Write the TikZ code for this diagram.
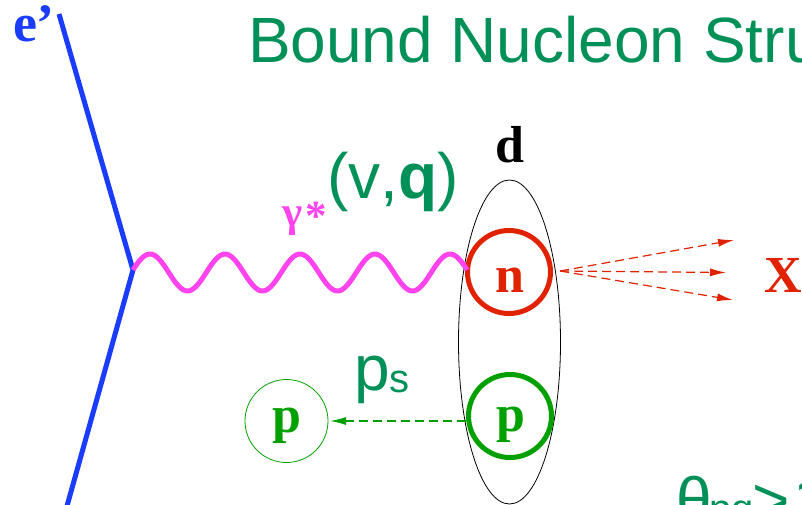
\documentclass[tikz,border=0pt]{standalone}
\usepackage{fontspec}
\setmainfont{Liberation Sans}
\newfontfamily\serifb[BoldFont=Liberation Serif Bold]{Liberation Serif}
\usetikzlibrary{arrows.meta,shapes.geometric}
\definecolor{titlegreen}{HTML}{009058}
\definecolor{eblue}{HTML}{1A3CFF}
\definecolor{nred}{HTML}{E02200}
\definecolor{pgreen}{HTML}{00A000}
\definecolor{gpink}{HTML}{FF44EE}
\tikzset{
  every node/.style={inner sep=0pt,outer sep=0pt},
  sanslabel/.style={anchor=base west,text=titlegreen,font=\fontsize{64}{64}\selectfont},
  sublabel/.style={anchor=base west,text=titlegreen,font=\fontsize{40}{40}\selectfont},
  partlabel/.style={anchor=base,font=\serifb\bfseries\fontsize{52}{52}\selectfont},
  electron/.style={draw=eblue,line width=5pt},
  photon/.style={draw=gpink,line width=5pt,line join=round},
  dashedarrow/.style={color=#1,line width=1.2pt,dash pattern=on 9pt off 5pt,
    -{Latex[length=16pt,width=8pt]}},
}
\begin{document}
\begin{tikzpicture}[x=1pt,y=-1pt]
\useasboundingbox (0,0) rectangle (802,504);
\clip (0,0) rectangle (802,504);
% text
\node[sanslabel] (title) at (248,62) {Bound Nucleon Stru};
\node[sanslabel] (vq) at (327,198) {(v\kern0pt,\textbf{q})};
\node[sanslabel] (ps) at (354,390) {p};
\node[sublabel] (pss) at (389,392) {s};
\node[sanslabel] (theta) at (676,522) {θ};
\node[sublabel] (pq) at (709,522) {pq};
\node[sanslabel] (gt) at (752,522) {>};
\node[sanslabel] (one) at (793,522) {1};
\node[anchor=base west,text=eblue,font=\serifb\bfseries\fontsize{54}{54}\selectfont] (ep) at (13,41) {e’};
\node[anchor=base west,text=gpink,font=\serifb\bfseries\fontsize{43}{43}\selectfont] (gam) at (282,226) {γ\kern3pt\raisebox{-4pt}{*}};
\node[partlabel,text=black] (d) at (509.5,162) {d};
% deuteron
\node[ellipse,draw=black,line width=0.8pt,minimum width=102pt,minimum height=324pt] (deut) at (509.5,342) {};
% nucleons
\node[circle,draw=nred,line width=5pt,minimum size=83pt] (n) at (509,272) {};
\node[circle,draw=pgreen,line width=5pt,minimum size=83pt] (pb) at (510,416) {};
\node[circle,draw=pgreen,line width=0.8pt,minimum size=83pt] (pf) at (286.5,421) {};
\node[partlabel,text=nred] (nl) at (510,292) {n};
\node[partlabel,text=pgreen] (pbl) at (510.5,431) {p};
\node[partlabel,text=pgreen] (pfl) at (287,432) {p};
\node[partlabel,anchor=base west,text=nred] (xl) at (764,292) {X};
% electron
\coordinate (ein) at (67,506);
\coordinate (eout) at (59,14);
\coordinate (v) at (133,270);
\draw[electron,line join=bevel] (eout) -- (v) -- (ein);
% photon
\coordinate (wend) at (467,270);
\draw[photon] (v) -- plot[domain=134:466,samples=130] (\x,{272.5-18.5*sin(4.8*(\x-131.25))}) -- (wend);
% fragments
\coordinate (src) at (560,271);
\coordinate (xa) at (734,240);
\coordinate (xb) at (726,272.5);
\coordinate (xc) at (733,300);
\draw[dashedarrow=nred] (src) -- (xa);
\draw[dashedarrow=nred] (src) -- (xb);
\draw[dashedarrow=nred] (src) -- (xc);
% spectator
\coordinate (pbw) at (466,421);
\draw[dashedarrow=pgreen,shorten >=2pt] (pbw) -- (pf.east |- pbw);
\end{tikzpicture}
\end{document}
